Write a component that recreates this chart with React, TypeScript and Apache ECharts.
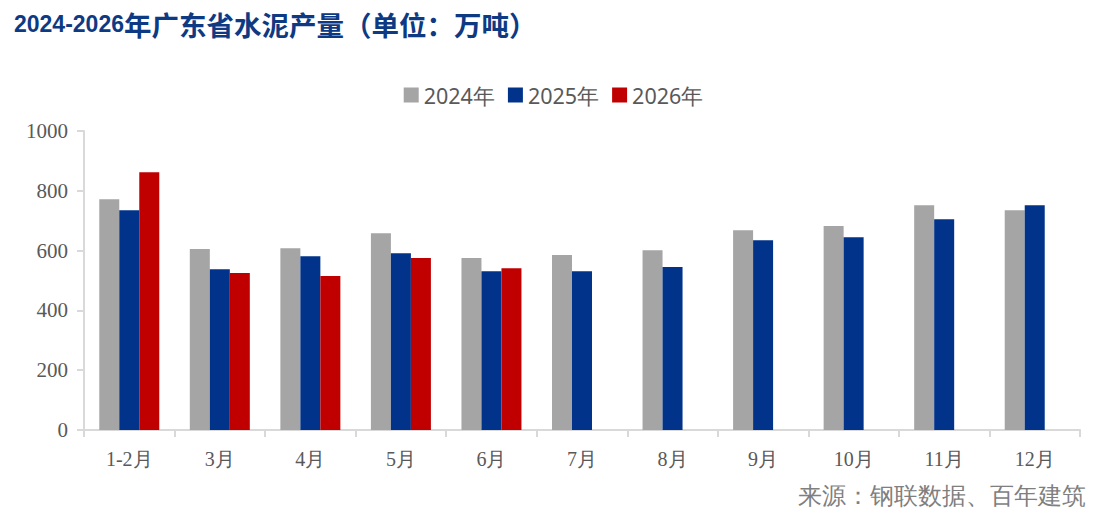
import React, { useEffect, useRef } from "react";
import * as echarts from "echarts";

const categories = ["1-2月", "3月", "4月", "5月", "6月", "7月", "8月", "9月", "10月", "11月", "12月"];
const seriesNames = ["2024年", "2025年", "2026年"];
const values2024 = [772, 605, 608, 658, 575, 585, 601, 668, 682, 752, 735];
const values2025 = [735, 538, 581, 591, 531, 531, 545, 635, 645, 705, 752];
const values2026 = [862, 525, 515, 575, 541, null, null, null, null, null, null];
const yTicks = [0, 200, 400, 600, 800, 1000];

const titleDigits = "2024-2026";
const titleRest = "年广东省水泥产量（单位：万吨）";
const sourceText = "来源：钢联数据、百年建筑";

const colors = ["#A5A5A5", "#02338A", "#C00000"];
const serif = "Liberation Serif";

export default function App() {
  const ref = useRef<HTMLDivElement>(null);
  useEffect(() => {
    document.body.style.margin = "0";
    const chart = echarts.init(ref.current!, null, { renderer: "svg" });
    const data = [values2024, values2025, values2026];
    chart.setOption({
      animation: false,
      backgroundColor: "#ffffff",
      color: colors,
      title: {
        text: `{d|${titleDigits}}{c|${titleRest}}`,
        left: 9,
        top: 5,
        textStyle: {
          rich: {
            d: {
              color: "#0E3A84",
              fontSize: 23,
              fontWeight: "bold",
              fontFamily: "Liberation Sans",
            },
            c: {
              color: "#0E3A84",
              fontSize: 27.5,
              fontWeight: "bold",
              fontFamily: "Noto Sans CJK SC",
            },
          },
        },
      },
      legend: {
        top: 79,
        left: "center",
        itemWidth: 15,
        itemHeight: 15,
        itemGap: 13,
        icon: "rect",
        textStyle: { color: "#595959", fontSize: 21.5, fontFamily: "Noto Sans" },
        data: seriesNames,
      },
      graphic: [
        {
          type: "text",
          right: 21,
          top: 484,
          style: {
            text: sourceText,
            fill: "#7F7F7F",
            fontSize: 23.5,
            fontFamily: serif,
          },
        },
      ],
      grid: { left: 84, right: 27, top: 131, bottom: 100, containLabel: false },
      xAxis: {
        type: "category",
        data: categories,
        axisLine: { lineStyle: { color: "#D9D9D9", width: 2 } },
        axisTick: { show: true, length: 7, lineStyle: { color: "#D9D9D9", width: 2 } },
        axisLabel: { color: "#595959", fontSize: 20, fontFamily: serif, margin: 19 },
      },
      yAxis: {
        type: "value",
        min: 0,
        max: 1000,
        interval: 200,
        axisLine: { show: true, lineStyle: { color: "#D9D9D9", width: 2 } },
        axisTick: { show: true, length: 7, lineStyle: { color: "#D9D9D9", width: 2 } },
        splitLine: { show: false },
        axisLabel: {
          color: "#595959",
          fontSize: 21,
          fontFamily: serif,
          margin: 16,
          formatter: (v: number) => (yTicks.includes(v) ? String(v) : ""),
        },
      },
      series: seriesNames.map((name, i) => ({
        name,
        type: "bar",
        data: data[i],
        barWidth: 20,
        barGap: "0%",
        itemStyle: { color: colors[i] },
      })),
    });
    return () => chart.dispose();
  }, []);
  return <div ref={ref} style={{ width: 1107, height: 530 }} />;
}
